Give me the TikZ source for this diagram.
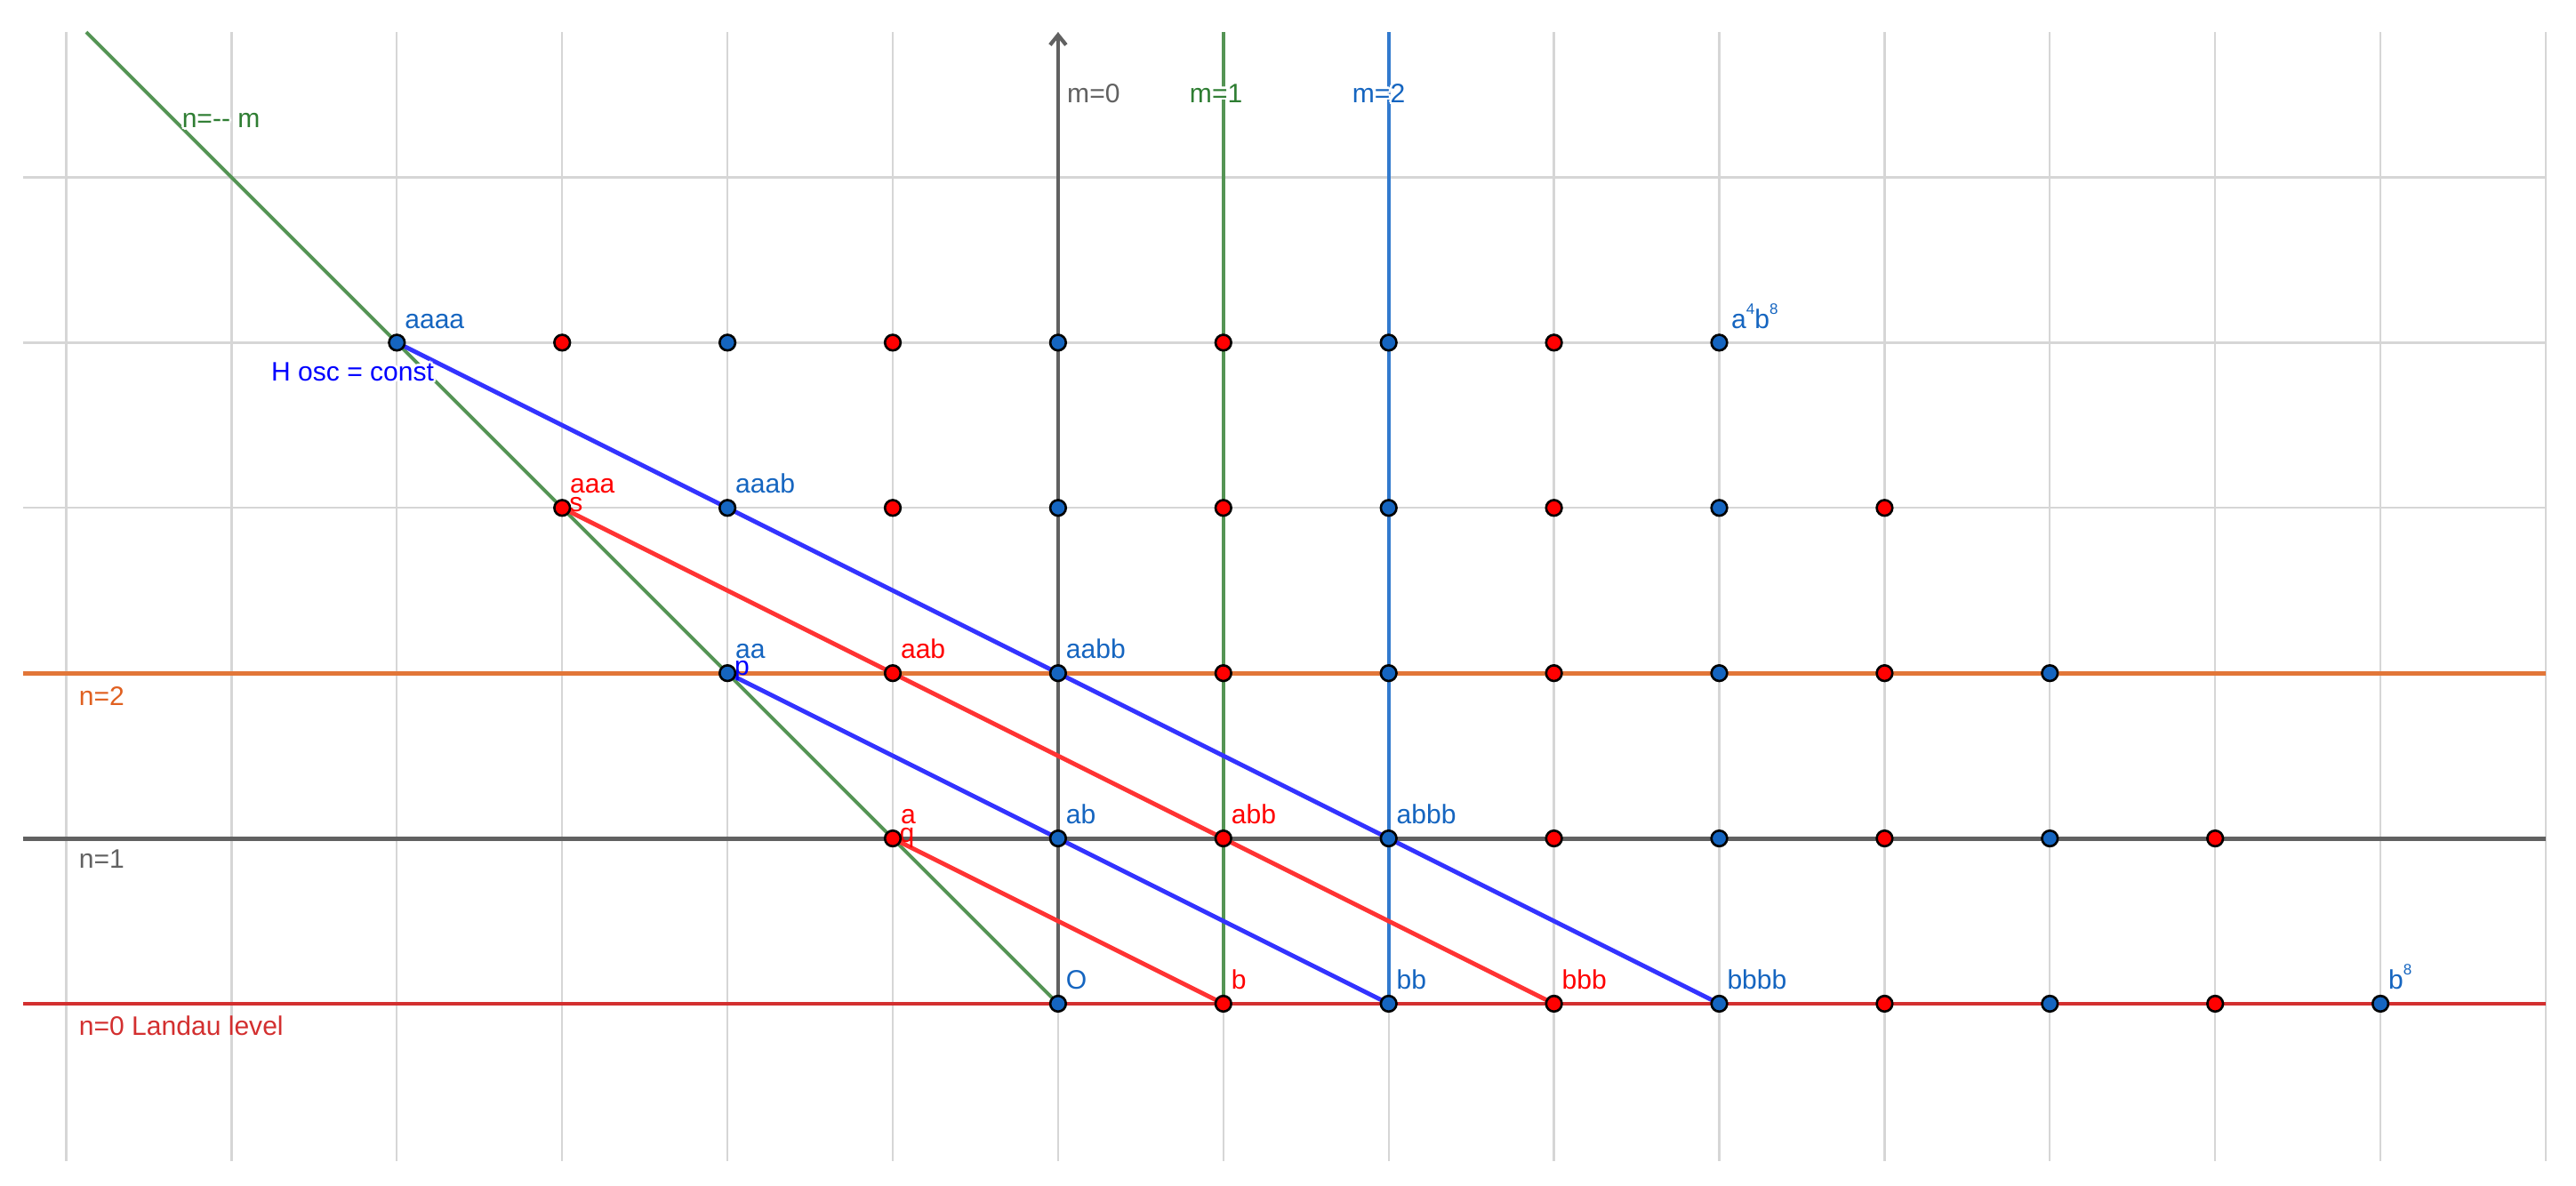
\documentclass[tikz,border=0pt]{standalone}
\usepackage{fontspec}
\setmainfont{Liberation Sans}
\usetikzlibrary{arrows.meta}
\pgfdeclarelayer{bg}
\pgfsetlayers{bg,main}
\definecolor{gridc}{RGB}{214,214,214}
\definecolor{ptblue}{RGB}{21,101,192}
\definecolor{ptred}{RGB}{255,0,0}
\definecolor{segblue}{RGB}{51,51,255}
\definecolor{segred}{RGB}{255,51,51}
\definecolor{lvlzero}{RGB}{211,47,47}
\definecolor{lvlone}{RGB}{97,97,97}
\definecolor{lvltwo}{RGB}{226,118,56}
\definecolor{lvltwotext}{RGB}{224,96,32}
\definecolor{mgreen}{RGB}{84,148,84}
\definecolor{mgreentext}{RGB}{46,125,50}
\definecolor{mblue}{RGB}{50,122,206}
\definecolor{osc}{RGB}{0,0,255}
\newcommand\mysup[1]{\raisebox{0.53em}{\fontsize{5.2}{6}\selectfont #1}}
\newcommand\myhalo[1]{\leavevmode
  \rlap{\color{white}\kern0.8pt #1}\rlap{\color{white}\kern-0.8pt #1}%
  \rlap{\color{white}\raisebox{0.8pt}{#1}}\rlap{\color{white}\raisebox{-0.8pt}{#1}}%
  \rlap{\color{white}\kern0.6pt\raisebox{0.6pt}{#1}}\rlap{\color{white}\kern-0.6pt\raisebox{0.6pt}{#1}}%
  \rlap{\color{white}\kern0.6pt\raisebox{-0.6pt}{#1}}\rlap{\color{white}\kern-0.6pt\raisebox{-0.6pt}{#1}}%
  #1}
\begin{document}
\begin{tikzpicture}[x=2cm,y=2cm,font=\fontsize{9.2}{11}\selectfont,
  gridline/.style={draw=gridc,line width=0.7pt},
  lvl/.style={line width=1.5pt},
  vline/.style={line width=1.3pt},
  dot/.style={circle,draw=black,line width=0.8pt,inner sep=0pt,minimum size=5.4pt},
  bdot/.style={dot,fill=ptblue},
  rdot/.style={dot,fill=ptred},
  lbl/.style={anchor=base west,inner sep=0pt},
  seg/.style={line width=1.5pt},
]
\useasboundingbox (-6.401,-1.098) rectangle (9.183,6.073);

% lattice points
\foreach \n in {0,...,4}{
  \pgfmathtruncatemacro{\xa}{-\n}
  \pgfmathtruncatemacro{\xb}{8-\n}
  \foreach \x in {\xa,...,\xb}{
    \pgfmathtruncatemacro{\pty}{mod(abs(\x),2)}
    \ifnum\pty=0 \node[bdot] (P\x y\n) at (\x,\n) {};
    \else \node[rdot] (P\x y\n) at (\x,\n) {};\fi
  }
}

% free ends
\coordinate (L0w) at (-6.26,0); \coordinate (L0e) at (9,0);
\coordinate (L1w) at (-6.26,1); \coordinate (L1e) at (9,1);
\coordinate (L2w) at (-6.26,2); \coordinate (L2e) at (9,2);
\coordinate (M0t) at (0,5.879);
\coordinate (M1t) at (1,5.879);
\coordinate (M2t) at (2,5.879);
\coordinate (NMt) at (-5.879,5.879);

\begin{pgfonlayer}{bg}
  \fill[white] (-6.401,-1.098) rectangle (9.183,6.073);
  \foreach \k in {-6,...,9} \draw[gridline] (\k,-0.95) -- (\k,5.879);
  \foreach \j in {0,...,5} \draw[gridline] (-6.26,\j) -- (9,\j);
  % Landau levels
  \draw[lvl,lvlzero] (L0w) -- (L0e);
  \draw[lvl,lvlone] (L1w) -- (L1e);
  \draw[lvl,lvltwo] (L2w) -- (L2e);
  % m lines
  \draw[vline,lvlone,-{Straight Barb[length=3.4pt,width=5.5pt]}] (P0y0.center) -- (M0t);
  \draw[vline,mgreen] (P1y0.center) -- (M1t);
  \draw[vline,mblue] (P2y0.center) -- (M2t);
  \draw[line width=1.2pt,mgreen] (P0y0.center) -- (NMt);
  % H osc = const segments
  \draw[seg,segblue] (P-4y4.center) -- (P4y0.center);
  \draw[seg,segblue] (P-2y2.center) -- (P2y0.center);
  \draw[seg,segred] (P-3y3.center) -- (P3y0.center);
  \draw[seg,segred] (P-1y1.center) -- (P1y0.center);
  % segment names
  \node[lbl,text=ptred] (segS) at (-2.96,2.978) {s};
  \node[lbl,text=osc] (segP) at (-1.96,1.985) {p};
  \node[lbl,text=ptred] (segQ) at (-0.962,0.978) {q};
\end{pgfonlayer}

% point labels
\foreach \x/\n/\t/\c in {-4/4/aaaa/ptblue, -3/3/aaa/ptred, -2/3/aaab/ptblue,
   -2/2/aa/ptblue, -1/2/aab/ptred, 0/2/aabb/ptblue,
   -1/1/a/ptred, 0/1/ab/ptblue, 1/1/abb/ptred, 2/1/abbb/ptblue,
   0/0/O/ptblue, 1/0/b/ptred, 2/0/bb/ptblue, 3/0/bbb/ptred, 4/0/bbbb/ptblue,
   8/0/{b\mysup{8}}/ptblue}{
  \node[lbl,text=\c] (T\x y\n) at ({\x+0.045},{\n+0.088}) {\t};
}
\node[lbl,text=ptblue] (T4y4) at (4.07,4.088) {a\mysup{4}b\mysup{8}};

% line labels
\node[lbl,text=lvlzero] (n0lab) at (-5.926,-0.19) {n=0 Landau level};
\node[lbl,text=lvlone] (n1lab) at (-5.926,0.819) {n=1};
\node[lbl,text=lvltwotext] (n2lab) at (-5.926,1.805) {n=2};
\node[lbl,text=lvlone] (m0lab) at (0.052,5.454) {m=0};
\node[lbl,text=mgreentext] (m1lab) at (0.793,5.454) {\myhalo{m=1}};
\node[lbl,text=ptblue] (m2lab) at (1.777,5.454) {\myhalo{m=2}};
\node[lbl,text=mgreentext] (nmlab) at (-5.303,5.301) {\myhalo{n=-{}- m}};
\node[lbl,text=osc] (hosc) at (-4.763,3.769) {\myhalo{H osc = const}};
\end{tikzpicture}
\end{document}
